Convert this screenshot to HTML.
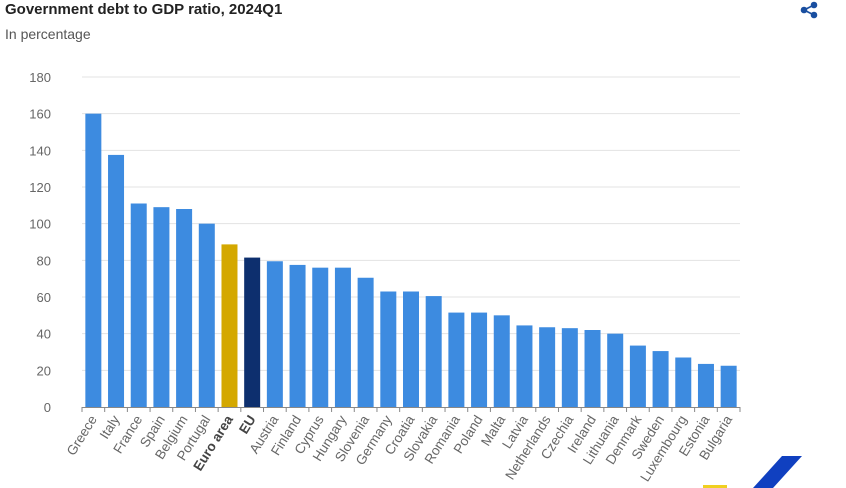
<!DOCTYPE html>
<html><head><meta charset="utf-8"><style>
body{margin:0;background:#fff;width:846px;height:488px;overflow:hidden;font-family:"Liberation Sans",Arial,sans-serif;position:relative}
#title{position:absolute;left:5px;top:1px;font-size:15px;font-weight:bold;color:#222}
#sub{position:absolute;left:5px;top:26px;font-size:14px;color:#555}
</style></head><body>
<div id="title">Government debt to GDP ratio, 2024Q1</div>
<div id="sub">In percentage</div>
<svg width="846" height="488" style="position:absolute;left:0;top:0" id="svg">
<g fill="#1a4fa0" stroke="#1a4fa0" stroke-width="1.6">
<circle cx="814" cy="5" r="2.5"/><circle cx="804" cy="10" r="2.5"/><circle cx="814" cy="15" r="2.5"/>
<line x1="814" y1="5" x2="804" y2="10"/><line x1="804" y1="10" x2="814" y2="15"/></g>
<polygon points="782,456 802,456 773,488 753,488" fill="#1040c0"/>
<rect x="703" y="485" width="24" height="3" fill="#f0d020"/>
</svg>
<script>
const categories=["Greece","Italy","France","Spain","Belgium","Portugal","Euro area","EU","Austria","Finland","Cyprus","Hungary","Slovenia","Germany","Croatia","Slovakia","Romania","Poland","Malta","Latvia","Netherlands","Czechia","Ireland","Lithuania","Denmark","Sweden","Luxembourg","Estonia","Bulgaria"];
const values=[160,137.5,111,109,108,100,88.7,81.5,79.5,77.5,76,76,70.5,63,63,60.5,51.5,51.5,50,44.5,43.5,43,42,40,33.5,30.5,27,23.5,22.5];
const yTicks=[0,20,40,60,80,100,120,140,160,180];
const NS="http://www.w3.org/2000/svg",svg=document.getElementById('svg');
const x0=82,x1=740,y0=407,yMax=180,yTop=77;
const bw=(x1-x0)/categories.length;
const y=v=>y0-(v/yMax)*(y0-yTop);
function mk(t,a){const e=document.createElementNS(NS,t);for(const k in a)e.setAttribute(k,a[k]);svg.appendChild(e);return e;}
yTicks.forEach(t=>{
 if(t>0){const l=mk('line',{x1:x0,x2:x1,y1:y(t),y2:y(t),stroke:'#e3e3e3','stroke-width':1});
 
 }
 const tx=mk('text',{x:51,y:y(t)+5,'text-anchor':'end','font-size':13,fill:'#666','font-family':'Liberation Sans,sans-serif'});
 tx.textContent=t;
 
 
});
categories.forEach((c,i)=>{
 const cx=x0+bw*(i+0.5);
 const col=c==="Euro area"?"#d4a800":c==="EU"?"#0d2f6e":"#3d8be0";
 const r=mk('rect',{x:cx-8,y:y(values[i]),width:16,height:y0-y(values[i]),fill:col});
 
 
 const tk=mk('line',{x1:x0+bw*i,x2:x0+bw*i,y1:y0,y2:y0+5,stroke:'#888'});
 
 
 const bold=(c==="Euro area"||c==="EU");
 const t=mk('text',{x:cx+4,y:y0+12,'text-anchor':'end','font-size':13.5,fill:bold?'#444':'#666','font-weight':bold?'bold':'normal','font-family':'Liberation Sans,sans-serif',transform:`rotate(-58 ${cx+4} ${y0+12})`});
 t.textContent=c;
 
 
});
const tkEnd=mk('line',{x1:x1,x2:x1,y1:y0,y2:y0+5,stroke:'#888'});


const ax=mk('line',{x1:x0,x2:x1,y1:y0+0.5,y2:y0+0.5,stroke:'#888'});


</script>
</body></html>
